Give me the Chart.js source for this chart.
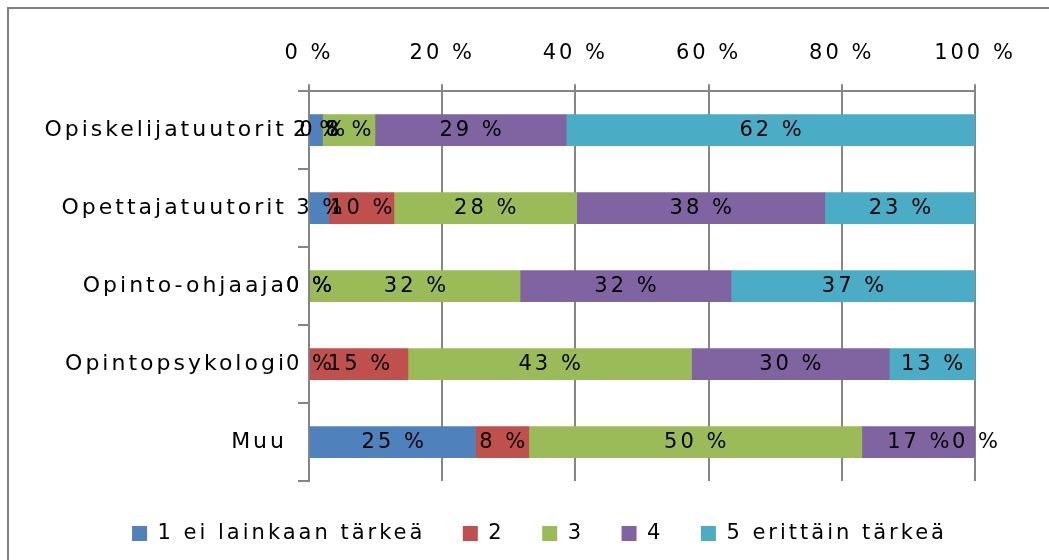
<!DOCTYPE html>
<html>
<head>
<meta charset="utf-8">
<script src="https://cdn.jsdelivr.net/npm/chart.js@4.4.1/dist/chart.umd.min.js"></script>
<style>
  html, body { margin: 0; padding: 0; background: #fff; overflow: hidden; }
  #frame {
    position: absolute; left: 7px; top: 7px; width: 1100px; height: 600px;
    border-left: 2px solid #7f7f7f; border-top: 2px solid #7f7f7f;
    pointer-events: none;
  }
  #myChart { position: absolute; left: 0; top: 0; }
</style>
</head>
<body>
<canvas id="myChart" width="1049" height="560"></canvas>
<div id="frame"></div>
<script>
  // categories and answer shares (%) as printed on the bars
  const categories = ['Opiskelijatuutorit', 'Opettajatuutorit', 'Opinto-ohjaaja', 'Opintopsykologi', 'Muu'];
  const seriesNames = ['1 ei lainkaan tärkeä', '2', '3', '4', '5 erittäin tärkeä'];
  const level1 = [2, 3, 0, 0, 25];
  const level2 = [0, 10, 0, 15, 8];
  const level3 = [8, 28, 32, 43, 50];
  const level4 = [29, 38, 32, 30, 17];
  const level5 = [62, 23, 37, 13, 0];
  const xTicks = [0, 20, 40, 60, 80, 100];

  const colors = ['#4F81BD', '#C0504D', '#9BBB59', '#8064A2', '#4BACC6'];
  const levels = [level1, level2, level3, level4, level5];
  const FONT = { family: "'DejaVu Sans', sans-serif", size: 21 };
  const SPACING = '3px';
  const PAD_LEFT = 30;

  // 100% stacked: each row scaled to its own sum
  const rowSums = categories.map((c, i) => levels.reduce((s, arr) => s + arr[i], 0));

  const datasets = levels.map((arr, k) => ({
    label: seriesNames[k],
    data: arr.map((v, i) => v / rowSums[i] * 100),
    shown: arr,
    backgroundColor: colors[k],
    borderWidth: 0,
    barThickness: 31
  }));

  const spacing = {
    id: 'spacing',
    beforeLayout(chart) { chart.ctx.letterSpacing = SPACING; },
    beforeDraw(chart) { chart.ctx.letterSpacing = SPACING; }
  };

  const barLabels = {
    id: 'barLabels',
    afterDatasetsDraw(chart) {
      const ctx = chart.ctx;
      ctx.save();
      ctx.letterSpacing = SPACING;
      ctx.font = FONT.size + 'px ' + FONT.family;
      ctx.fillStyle = '#000';
      ctx.textAlign = 'center';
      ctx.textBaseline = 'middle';
      chart.data.datasets.forEach((ds, k) => {
        chart.getDatasetMeta(k).data.forEach((bar, i) => {
          const cx = (bar.x + bar.base) / 2 + 1.5;
          ctx.fillText(ds.shown[i] + ' %', cx, bar.y);
        });
      });
      ctx.restore();
    }
  };

  const ctx = document.getElementById('myChart').getContext('2d');
  new Chart(ctx, {
    type: 'bar',
    data: { labels: categories, datasets: datasets },
    plugins: [spacing, barLabels],
    options: {
      indexAxis: 'y',
      responsive: false,
      animation: false,
      layout: { padding: { left: PAD_LEFT, right: 0, top: 23, bottom: 6 } },
      scales: {
        x: {
          position: 'top',
          stacked: true,
          min: 0,
          max: 100,
          afterBuildTicks: scale => { scale.ticks = xTicks.map(v => ({ value: v })); },
          ticks: {
            color: '#000',
            font: FONT,
            padding: 18,
            maxRotation: 0,
            callback: v => v + ' %'
          },
          grid: { color: '#868686', lineWidth: 2, tickLength: 7, drawTicks: true },
          border: { color: '#868686', width: 2 }
        },
        y: {
          stacked: true,
          afterFit: scale => { scale.width = 309 - PAD_LEFT; },
          ticks: { color: '#000', font: { family: FONT.family, size: 22 }, padding: 11 },
          grid: { drawOnChartArea: false, color: '#868686', lineWidth: 2, tickLength: 11 },
          border: { color: '#868686', width: 2 }
        },
        // empty strip on the right so the plot ends at 100 %
        yRight: {
          type: 'category',
          position: 'right',
          ticks: { display: false },
          grid: { display: false },
          border: { display: false },
          afterFit: scale => { scale.width = 74; }
        }
      },
      plugins: {
        legend: {
          position: 'bottom',
          title: { display: true, text: '', font: { size: 2 }, padding: { top: 0, bottom: 2 } },
          labels: {
            color: '#000',
            font: FONT,
            boxWidth: 15,
            boxHeight: 15,
            padding: 37.5
          }
        },
        tooltip: { enabled: false }
      }
    }
  });
</script>
</body>
</html>
